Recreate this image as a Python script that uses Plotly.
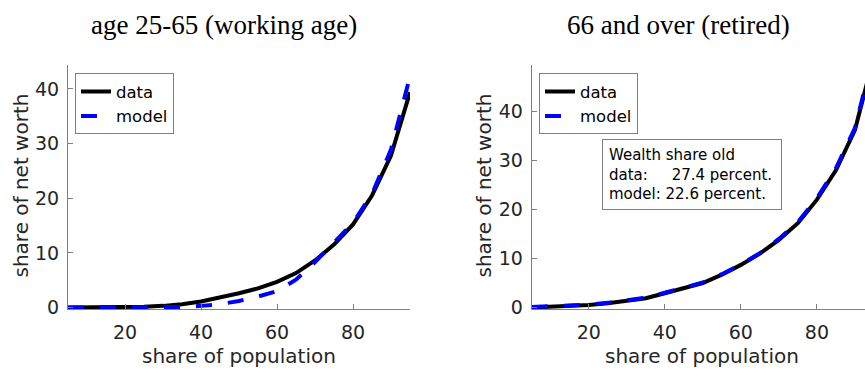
import plotly.graph_objects as go

# ---------------- data ----------------
share_pop = [5, 10, 15, 20, 25, 30, 35, 40, 45, 50, 55, 60, 65, 70, 75, 80, 85, 90, 95]

work_data = [0, 0, 0, 0.05, 0.15, 0.3, 0.6, 1.1, 1.8, 2.6, 3.5, 4.7, 6.3, 8.6, 11.5, 15.2, 20.5, 27.8, 39.4]
work_model = [0, 0, 0, 0, 0, 0.05, 0.1, 0.3, 0.6, 1.2, 2.0, 3.0, 5.1, 8.3, 12.0, 15.5, 20.8, 28.9, 42.3]

ret_data = [0, 0.1, 0.25, 0.5, 0.85, 1.3, 1.9, 2.9, 3.9, 5.0, 6.7, 8.7, 11.0, 13.8, 17.2, 22.0, 28.0, 36.2, 51.3]
ret_model = [0.1, 0.2, 0.35, 0.6, 0.95, 1.4, 2.0, 3.0, 4.0, 5.1, 6.8, 8.8, 11.1, 14.0, 17.4, 22.3, 28.4, 36.6, 52.0]

x_ticks = [20, 40, 60, 80]
y_ticks = [0, 10, 20, 30, 40]

titles = ["age 25-65 (working age)", "66 and over (retired)"]
x_label = "share of population"
y_label = "share of net worth"
box_lines = ["Wealth share old", "data:\u00a0\u00a0\u00a0\u00a0 27.4 percent.", "model: 22.6 percent."]

# ---------------- figure ----------------
W, H = 865, 379
AX = "#808080"
TXT = "#262626"
SANS = "DejaVu Sans"
SERIF = "Liberation Serif"

fig = go.Figure()

line_data = dict(color="black", width=4)
line_model = dict(color="#0000ff", width=4, dash="16px,16px")

fig.add_trace(go.Scatter(x=share_pop, y=work_data, mode="lines", name="data",
                         line=line_data, xaxis="x", yaxis="y", legend="legend"))
fig.add_trace(go.Scatter(x=share_pop, y=work_model, mode="lines", name="model",
                         line=line_model, xaxis="x", yaxis="y", legend="legend"))
fig.add_trace(go.Scatter(x=share_pop, y=ret_data, mode="lines", name="data",
                         line=line_data, xaxis="x2", yaxis="y2", legend="legend2"))
fig.add_trace(go.Scatter(x=share_pop, y=ret_model, mode="lines", name="model",
                         line=line_model, xaxis="x2", yaxis="y2", legend="legend2"))


def px_x(p):
    return p / W


def px_y(p):
    return (H - p) / H


ydom = [px_y(317), px_y(67)]

common_x = dict(showline=True, linecolor=AX, linewidth=1, ticks="inside", ticklen=5,
                tickcolor=AX, showgrid=False, zeroline=False, tickvals=x_ticks,
                tickfont=dict(family=SANS, size=19, color=TXT), ticklabelstandoff=6)
common_y = dict(showline=True, linecolor=AX, linewidth=1, ticks="inside", ticklen=5,
                tickcolor=AX, showgrid=False, zeroline=False, tickvals=y_ticks,
                tickfont=dict(family=SANS, size=19, color=TXT), ticklabelstandoff=4)

fig.update_layout(
    width=W, height=H,
    margin=dict(l=0, r=0, t=0, b=0),
    paper_bgcolor="white", plot_bgcolor="white",
    xaxis=dict(domain=[px_x(68), px_x(410)], range=[5, 95], anchor="y", **common_x),
    yaxis=dict(domain=ydom, range=[-0.36, 44.3], anchor="x", **common_y),
    xaxis2=dict(domain=[px_x(531.7), 1.0], range=[5, 92.65], anchor="y2", **common_x),
    yaxis2=dict(domain=ydom, range=[-0.4, 49.4], anchor="x2", **common_y),
    legend=dict(x=px_x(75), y=px_y(75), xanchor="left", yanchor="top",
                bgcolor="white", bordercolor=AX, borderwidth=1,
                font=dict(family=SANS, size=16.5, color="black"), tracegroupgap=0),
    legend2=dict(x=px_x(539), y=px_y(75), xanchor="left", yanchor="top",
                 bgcolor="white", bordercolor=AX, borderwidth=1,
                 font=dict(family=SANS, size=16.5, color="black"), tracegroupgap=0),
    showlegend=True,
)

annotations = []
# titles
for t, cx in zip(titles, [224, 678]):
    annotations.append(dict(text=t, x=px_x(cx), y=px_y(26), xref="paper", yref="paper",
                            xanchor="center", yanchor="middle", showarrow=False,
                            font=dict(family=SERIF, size=27, color="black")))
# axis titles
for cx in [238.5, 702]:
    annotations.append(dict(text=x_label, x=px_x(cx), y=px_y(365), xref="paper", yref="paper",
                            xanchor="center", yanchor="middle", showarrow=False,
                            font=dict(family=SANS, size=20, color=TXT)))
for cx in [21, 484]:
    annotations.append(dict(text=y_label, x=px_x(cx), y=px_y(190), xref="paper", yref="paper",
                            xanchor="center", yanchor="middle", showarrow=False, textangle=-90,
                            font=dict(family=SANS, size=20, color=TXT)))
# text box
annotations.append(dict(text="<br>".join(box_lines), x=px_x(692), y=px_y(179),
                        xref="paper", yref="paper", xanchor="center", yanchor="middle",
                        showarrow=False, align="left", width=166, borderpad=6,
                        bordercolor=AX, borderwidth=1, bgcolor="white",
                        font=dict(family=SANS, size=15, color="black")))

fig.update_layout(annotations=annotations)

fig.write_html("out.html")
